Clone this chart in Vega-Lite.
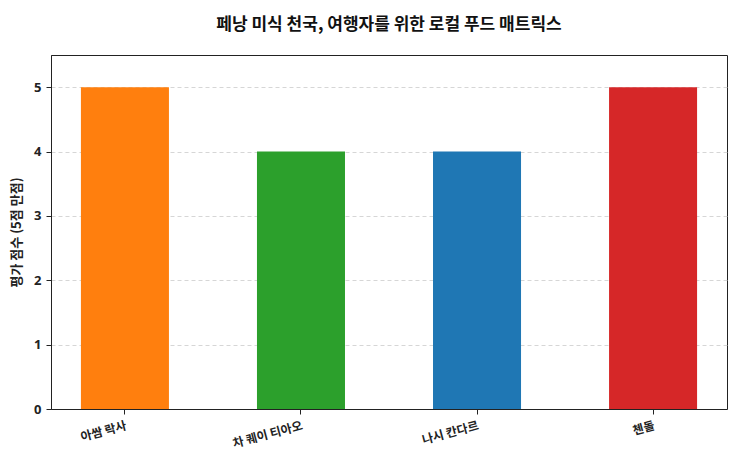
{
  "$schema": "https://vega.github.io/schema/vega-lite/v6.json",
  "autosize": "none",
  "width": 676,
  "height": 354,
  "padding": {"left": 51, "top": 55, "right": 16, "bottom": 55},
  "background": "white",
  "title": {
    "text": "페낭 미식 천국, 여행자를 위한 로컬 푸드 매트릭스",
    "font": "Noto Sans CJK KR",
    "fontSize": 17,
    "fontWeight": "bold",
    "color": "#111111",
    "anchor": "middle",
    "offset": 21
  },
  "data": {
    "values": [
      {"food": "아쌈 락사", "score": 5},
      {"food": "차 퀘이 티아오", "score": 4},
      {"food": "나시 칸다르", "score": 4},
      {"food": "첸돌", "score": 5}
    ]
  },
  "config": {
    "view": {"stroke": "#222222", "strokeWidth": 1},
    "font": "Noto Sans CJK KR"
  },
  "mark": {"type": "bar"},
  "encoding": {
    "x": {
      "field": "food",
      "type": "nominal",
      "sort": null,
      "scale": {"paddingInner": 0.5, "paddingOuter": 0.17},
      "axis": {
        "title": null,
        "labelAngle": -15,
        "labelAlign": "right",
        "labelBaseline": "top",
        "labelFont": "Noto Sans CJK KR",
        "labelFontSize": 12,
        "labelFontWeight": "bold",
        "labelColor": "#222222",
        "labelPadding": 6,
        "tickColor": "#222222",
        "tickSize": 5,
        "domainColor": "#222222",
        "grid": false
      }
    },
    "y": {
      "field": "score",
      "type": "quantitative",
      "scale": {"domain": [0, 5.5], "nice": false},
      "axis": {
        "title": "평가 점수 (5점 만점)",
        "titleFont": "Noto Sans CJK KR",
        "titleFontSize": 13,
        "titleFontWeight": "bold",
        "titleColor": "#222222",
        "titlePadding": 10,
        "values": [0, 1, 2, 3, 4, 5],
        "labelFont": "Noto Sans",
        "labelFontSize": 13,
        "labelFontWeight": "bold",
        "labelColor": "#222222",
        "labelPadding": 5,
        "tickColor": "#222222",
        "tickSize": 5,
        "domainColor": "#222222",
        "grid": true,
        "gridColor": "#cccccc",
        "gridDash": [4, 3],
        "gridWidth": 0.8
      }
    },
    "color": {
      "field": "food",
      "type": "nominal",
      "scale": {
        "domain": ["아쌈 락사", "차 퀘이 티아오", "나시 칸다르", "첸돌"],
        "range": ["#ff7f0e", "#2ca02c", "#1f77b4", "#d62728"]
      },
      "legend": null
    }
  }
}
